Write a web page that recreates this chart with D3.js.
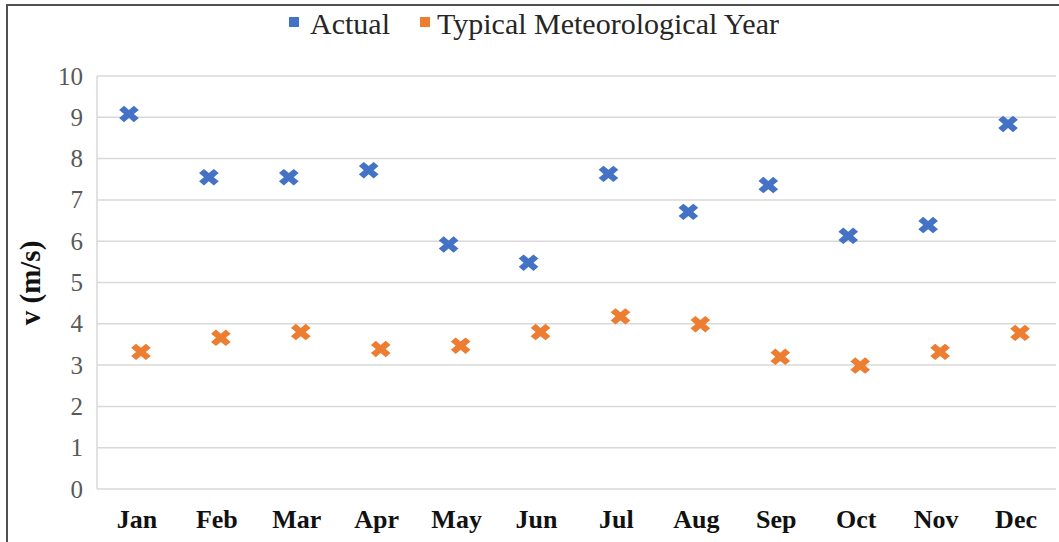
<!DOCTYPE html>
<html><head><meta charset="utf-8">
<script src="https://cdn.jsdelivr.net/npm/d3@7"></script>
<style>body{margin:0;background:#fff}</style>
</head><body>
<script>
const months = ["Jan","Feb","Mar","Apr","May","Jun","Jul","Aug","Sep","Oct","Nov","Dec"];
const actual = [9.08,7.55,7.55,7.72,5.92,5.48,7.63,6.71,7.36,6.13,6.39,8.84];
const tmy = [3.32,3.66,3.80,3.39,3.47,3.80,4.18,3.99,3.20,2.99,3.32,3.78];
const yTicks = [0,1,2,3,4,5,6,7,8,9,10];
const seriesNames = ["Actual","Typical Meteorological Year"];
const colors = ["#4472C4","#ED7D31"];

const W=1059,H=542;
const svg=d3.select("body").append("svg").attr("width",W).attr("height",H);
svg.append("rect").attr("width",W).attr("height",H).attr("fill","#fff");
// frame
svg.append("path").attr("d",`M7,${H} L7,5 L${W},5`).attr("fill","none").attr("stroke","#505050").attr("stroke-width",2);

const m={l:97,r:1056,t:76,b:489};
const x=d3.scaleBand().domain(months).range([m.l,m.r]);
const y=d3.scaleLinear().domain([0,10]).range([m.b,m.t]);

const g=svg.append("g");
g.selectAll("line.grid").data(yTicks).join("line").attr("class","grid")
 .attr("x1",m.l).attr("x2",m.r).attr("y1",d=>y(d)).attr("y2",d=>y(d))
 .attr("stroke","#d9d9d9").attr("stroke-width",1.5);
g.append("line").attr("x1",m.l).attr("x2",m.l).attr("y1",m.t).attr("y2",m.b).attr("stroke","#d9d9d9").attr("stroke-width",1.5);

const yAxis=svg.append("g").attr("transform",`translate(${m.l},0)`).call(d3.axisLeft(y).tickValues(yTicks).tickSize(0).tickPadding(14));
yAxis.select(".domain").remove();
yAxis.selectAll("text").attr("font-family","Liberation Serif").attr("font-size",25).attr("fill","#595959");

const xAxis=svg.append("g").attr("transform",`translate(0,${m.b})`).call(d3.axisBottom(x).tickSize(0).tickPadding(21));
xAxis.select(".domain").remove();
xAxis.selectAll("text").attr("font-family","Liberation Serif").attr("font-size",26).attr("font-weight","bold").attr("fill","#111").attr("dy","0.71em");

svg.append("text").attr("transform","translate(40,283) rotate(-90)").attr("text-anchor","middle")
 .attr("font-family","Liberation Serif").attr("font-size",29).attr("font-weight","bold").attr("fill","#111").text("v (m/s)");

const sym=d3.symbol().type(d3.symbolCross).size(200);
const offsets=[-8,4];
[actual,tmy].forEach((vals,i)=>{
  svg.append("g").selectAll("path").data(vals).join("path")
   .attr("d",sym)
   .attr("transform",(d,j)=>`translate(${x(months[j])+x.bandwidth()/2+offsets[i]},${y(d)}) scale(1.1,0.92) rotate(45)`)
   .attr("fill",colors[i]);
});

// legend
const leg=svg.append("g");
const lx=[289,420];
seriesNames.forEach((n,i)=>{
  leg.append("rect").attr("x",lx[i]).attr("y",17).attr("width",10).attr("height",10).attr("fill",colors[i]);
  leg.append("text").attr("x",lx[i]+(i?17:21)).attr("y",34).attr("font-family","Liberation Serif").attr("font-size",30).attr("fill","#262626").text(n);
});
</script>
</body></html>
